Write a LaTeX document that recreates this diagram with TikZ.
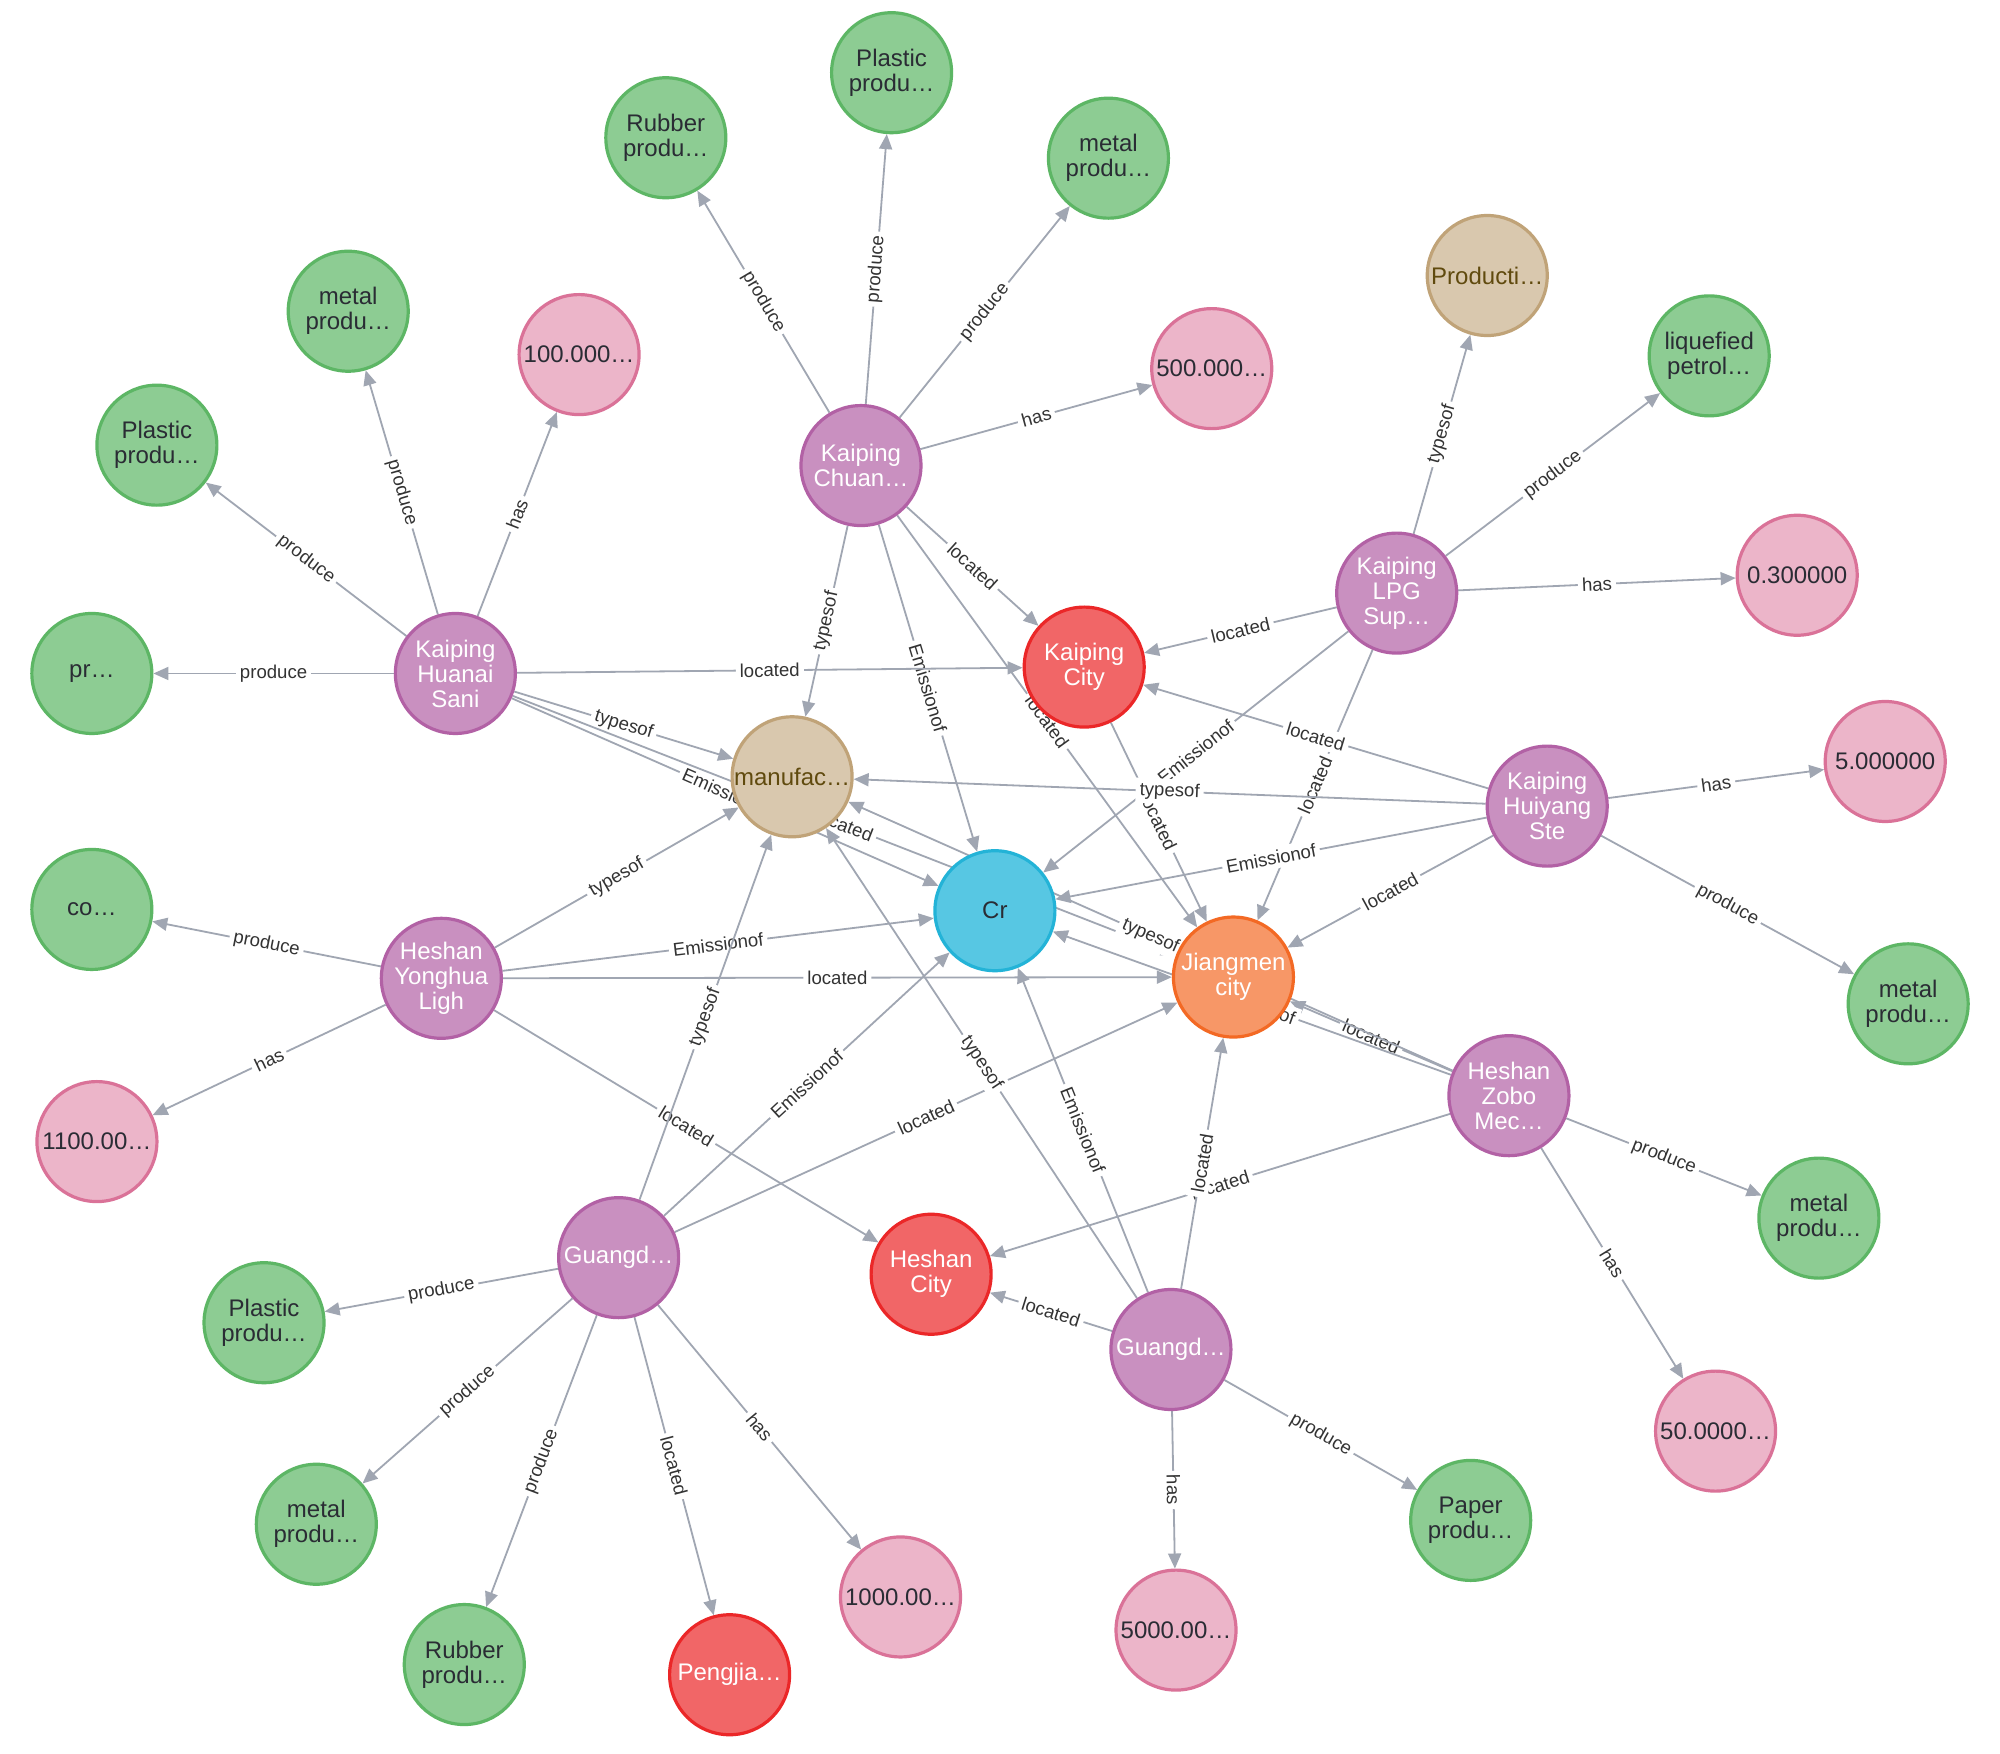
\documentclass[tikz,border=0pt]{standalone}
\usepackage{fontspec}
\setmainfont{Liberation Sans}
\usetikzlibrary{arrows.meta}
\pgfdeclarelayer{bg}
\pgfsetlayers{bg,main}
\definecolor{purpF}{HTML}{C990C0}\definecolor{purpD}{HTML}{B261A5}
\definecolor{greenF}{HTML}{8DCC93}\definecolor{greenD}{HTML}{5DB665}
\definecolor{pinkF}{HTML}{ECB5C9}\definecolor{pinkD}{HTML}{DA7298}
\definecolor{redF}{HTML}{F16667}\definecolor{redD}{HTML}{EB2728}
\definecolor{tanF}{HTML}{D9C8AE}\definecolor{tanD}{HTML}{C0A378}
\definecolor{blueF}{HTML}{57C7E3}\definecolor{blueD}{HTML}{23B3D7}
\definecolor{oranF}{HTML}{F79767}\definecolor{oranD}{HTML}{F36924}
\definecolor{darkT}{HTML}{2A2C34}\definecolor{tanT}{HTML}{604A0E}
\definecolor{edgeC}{HTML}{A0A6B2}\definecolor{lblC}{HTML}{333333}
\begin{document}
\begin{tikzpicture}[x=0.6378pt,y=-0.6378pt,
  gnode/.style={circle,minimum size=60pt,inner sep=0pt,line width=1.6pt,align=center,font=\fontsize{12}{12.5}\selectfont},
  purp/.style={gnode,fill=purpF,draw=purpD,text=white},
  grn/.style={gnode,fill=greenF,draw=greenD,text=darkT},
  pnk/.style={gnode,fill=pinkF,draw=pinkD,text=darkT},
  rd/.style={gnode,fill=redF,draw=redD,text=white},
  tn/.style={gnode,fill=tanF,draw=tanD,text=tanT},
  bl/.style={gnode,fill=blueF,draw=blueD,text=darkT},
  orn/.style={gnode,fill=oranF,draw=oranD,text=white},
  edge/.style={draw=edgeC,line width=0.9pt,-{Triangle[length=7.5pt,width=6.5pt]}},
  lbl/.style={midway,sloped,fill=white,inner sep=2pt,font=\fontsize{9.3}{9.5}\selectfont,text=lblC}]
\useasboundingbox (0,0) rectangle (1568,1375);
% nodes
\node[purp] (kc) at (675,365) {Kaiping\\Chuan…};
\node[grn] (kcRub) at (522,108) {Rubber\\produ…};
\node[grn] (kcPla) at (699,57) {Plastic\\produ…};
\node[grn] (kcMet) at (869,124) {metal\\produ…};
\node[pnk] (kc500) at (950,289) {500.000…};
\node[purp] (kh) at (357,528) {Kaiping\\Huanai\\Sani};
\node[grn] (khMet) at (273,244) {metal\\produ…};
\node[pnk] (kh100) at (454,278) {100.000…};
\node[grn] (khPla) at (123,349) {Plastic\\produ…};
\node[grn] (khPr) at (72,528) {pr…};
\node[rd] (kcity) at (850,523) {Kaiping\\City};
\node[tn] (prod) at (1166,216) {Producti…};
\node[grn] (liq) at (1340,279) {liquefied\\petrol…};
\node[purp] (lpg) at (1095,465) {Kaiping\\LPG\\Sup…};
\node[pnk] (v03) at (1409,451) {0.300000};
\node[tn] (manu) at (621,609) {manufac…};
\node[purp] (hui) at (1213,632) {Kaiping\\Huiyang\\Ste};
\node[pnk] (v5) at (1478,597) {5.000000};
\node[grn] (huiMet) at (1496,787) {metal\\produ…};
\node[grn] (hyCo) at (72,713) {co…};
\node[purp] (hy) at (346,767) {Heshan\\Yonghua\\Ligh};
\node[bl] (cr) at (780,714) {Cr};
\node[orn] (jm) at (967,766) {Jiangmen\\city};
\node[pnk] (v1100) at (76,895) {1100.00…};
\node[purp] (hz) at (1183,859) {Heshan\\Zobo\\Mec…};
\node[grn] (hzMet) at (1426,955) {metal\\produ…};
\node[purp] (gl) at (485,986) {Guangd…};
\node[rd] (hcity) at (730,999) {Heshan\\City};
\node[purp] (gr) at (918,1058) {Guangd…};
\node[grn] (glPla) at (207,1037) {Plastic\\produ…};
\node[pnk] (v50) at (1345,1122) {50.0000…};
\node[grn] (glMet) at (248,1195) {metal\\produ…};
\node[grn] (paper) at (1153,1192) {Paper\\produ…};
\node[pnk] (v1000) at (706,1252) {1000.00…};
\node[pnk] (v5000) at (922,1278) {5000.00…};
\node[grn] (glRub) at (364,1305) {Rubber\\produ…};
\node[rd] (peng) at (572,1313) {Pengjia…};
% edges
\begin{pgfonlayer}{bg}
\fill[white] (0,0) rectangle (1568,1375);
\draw[edge] (kc) -- node[lbl]{produce} (kcRub);
\draw[edge] (kc) -- node[lbl]{produce} (kcPla);
\draw[edge] (kc) -- node[lbl]{produce} (kcMet);
\draw[edge] (kc) -- node[lbl]{has} (kc500);
\draw[edge] (kc) -- node[lbl]{located} (kcity);
\draw[edge] (kc) -- node[lbl]{typesof} (manu);
\draw[edge] (kc) -- node[lbl]{Emissionof} (cr);
\draw[edge] (kc) -- node[lbl]{located} (jm);
\draw[edge] (kh) -- node[lbl]{produce} (khMet);
\draw[edge] (kh) -- node[lbl]{has} (kh100);
\draw[edge] (kh) -- node[lbl]{produce} (khPla);
\draw[edge] (kh) -- node[lbl]{produce} (khPr);
\draw[edge] (kh) -- node[lbl]{located} (kcity);
\draw[edge] (kh) -- node[lbl]{typesof} (manu);
\draw[edge] (kh) -- node[lbl]{Emissionof} (cr);
\draw[edge] (kh) -- node[lbl]{located} (jm);
\draw[edge] (kcity) -- node[lbl]{located} (jm);
\draw[edge] (lpg) -- node[lbl]{typesof} (prod);
\draw[edge] (lpg) -- node[lbl]{produce} (liq);
\draw[edge] (lpg) -- node[lbl]{has} (v03);
\draw[edge] (lpg) -- node[lbl]{located} (kcity);
\draw[edge] (lpg) -- node[lbl]{Emissionof} (cr);
\draw[edge] (lpg) -- node[lbl]{located} (jm);
\draw[edge] (hui) -- node[lbl]{has} (v5);
\draw[edge] (hui) -- node[lbl]{produce} (huiMet);
\draw[edge] (hui) -- node[lbl]{located} (kcity);
\draw[edge] (hui) -- node[lbl]{typesof} (manu);
\draw[edge] (hui) -- node[lbl]{Emissionof} (cr);
\draw[edge] (hui) -- node[lbl]{located} (jm);
\draw[edge] (hy) -- node[lbl]{produce} (hyCo);
\draw[edge] (hy) -- node[lbl]{has} (v1100);
\draw[edge] (hy) -- node[lbl]{typesof} (manu);
\draw[edge] (hy) -- node[lbl]{Emissionof} (cr);
\draw[edge] (hy) -- node[lbl]{located} (jm);
\draw[edge] (hy) -- node[lbl]{located} (hcity);
\draw[edge] (hz) -- node[lbl]{located} (jm);
\draw[edge] (hz) -- node[lbl]{Emissionof} (cr);
\draw[edge] (hz) -- node[lbl]{typesof} (manu);
\draw[edge] (hz) -- node[lbl]{located} (hcity);
\draw[edge] (hz) -- node[lbl]{produce} (hzMet);
\draw[edge] (hz) -- node[lbl]{has} (v50);
\draw[edge] (gl) -- node[lbl]{typesof} (manu);
\draw[edge] (gl) -- node[lbl]{Emissionof} (cr);
\draw[edge] (gl) -- node[lbl]{located} (jm);
\draw[edge] (gl) -- node[lbl]{produce} (glPla);
\draw[edge] (gl) -- node[lbl]{produce} (glMet);
\draw[edge] (gl) -- node[lbl]{produce} (glRub);
\draw[edge] (gl) -- node[lbl]{located} (peng);
\draw[edge] (gl) -- node[lbl]{has} (v1000);
\draw[edge] (gr) -- node[lbl]{located} (hcity);
\draw[edge] (gr) -- node[lbl]{typesof} (manu);
\draw[edge] (gr) -- node[lbl]{Emissionof} (cr);
\draw[edge] (gr) -- node[lbl]{located} (jm);
\draw[edge] (gr) -- node[lbl]{has} (v5000);
\draw[edge] (gr) -- node[lbl]{produce} (paper);
\end{pgfonlayer}
\end{tikzpicture}
\end{document}
